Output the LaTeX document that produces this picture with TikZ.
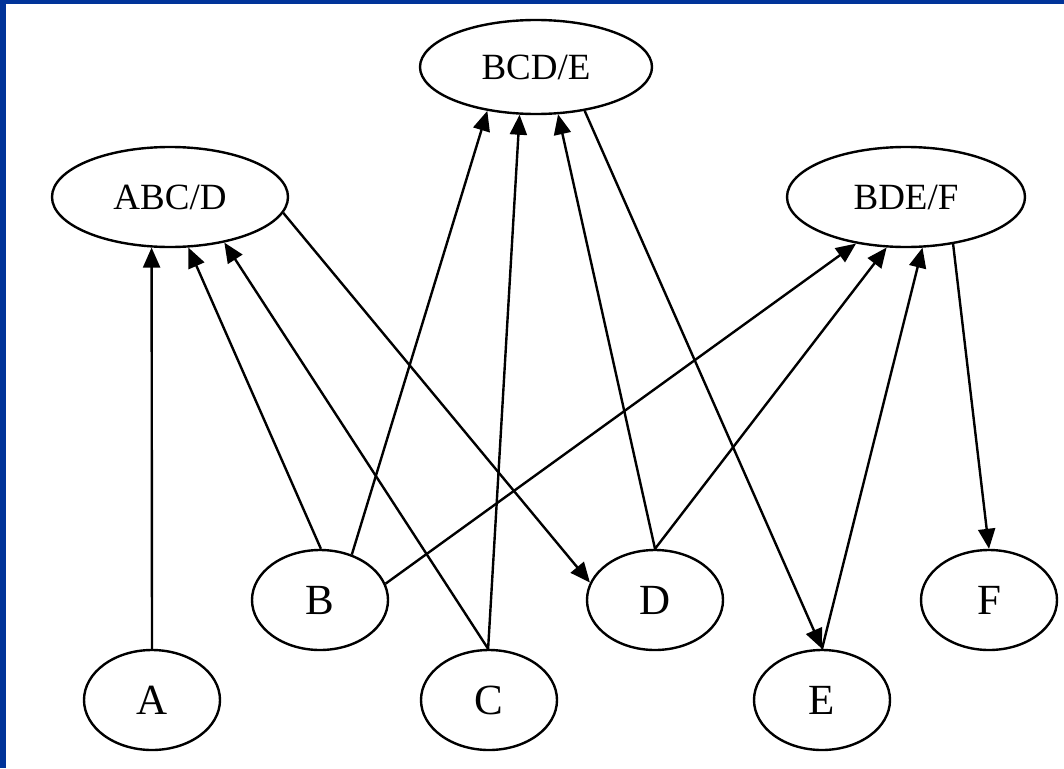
\documentclass[tikz,border=0pt]{standalone}
\usepackage{fontspec}
\setmainfont{Liberation Serif}
\usetikzlibrary{shapes.geometric,arrows.meta}
\definecolor{frameblue}{HTML}{003399}
\tikzset{
  big/.style={draw, ellipse, line width=2.4pt, inner sep=0pt, minimum width=236pt, minimum height=100pt, font=\fontsize{37}{44}\selectfont},
  small/.style={draw, ellipse, line width=2.4pt, inner sep=0pt, minimum width=136pt, minimum height=100pt, font=\fontsize{43}{50}\selectfont},
  edge/.style={line width=2.4pt, -{Triangle[length=20pt,width=17pt]}}
}
\begin{document}
\begin{tikzpicture}[x=1pt,y=-1pt]
\useasboundingbox (0,0) rectangle (1064,768);
\fill[white] (0,0) rectangle (1064,768);
\fill[frameblue] (0,0) rectangle (6,768);
\fill[frameblue] (0,0) rectangle (1064,4);
\node[big, minimum width=232pt, minimum height=94pt] (BCDE) at (536,67) {BCD/E};
\node[big] (ABCD) at (170,197) {ABC/D};
\node[big, minimum width=238pt] (BDEF) at (906,197) {BDE/F};
\node[small] (A) at (152,700) {A};
\node[small] (B) at (320,600) {B};
\node[small] (C) at (489,700) {C};
\node[small] (D) at (655,600) {D};
\node[small] (E) at (822,700) {E};
\node[small] (F) at (989,600) {F};
\draw[edge] (A.90) -- (ABCD.250);
\draw[edge] (B.89) -- (ABCD.290);
\draw[edge] (C.91) -- (ABCD.320);
\draw[edge] (B.55) -- (BCDE.222);
\draw[edge] (C.91) -- (BCDE.251.6);
\draw[edge] (D.90) -- (BCDE.295);
\draw[edge] (BCDE.318.5) -- (E.90);
\draw[edge] (ABCD.352.3) -- (D.165);
\draw[edge] (B.14.2) -- (BDEF.223.9);
\draw[edge] (D.90) -- (BDEF.249.6);
\draw[edge] (E.90) -- (BDEF.288.4);
\draw[edge] (BDEF.315) -- (F.90);
\end{tikzpicture}
\end{document}
